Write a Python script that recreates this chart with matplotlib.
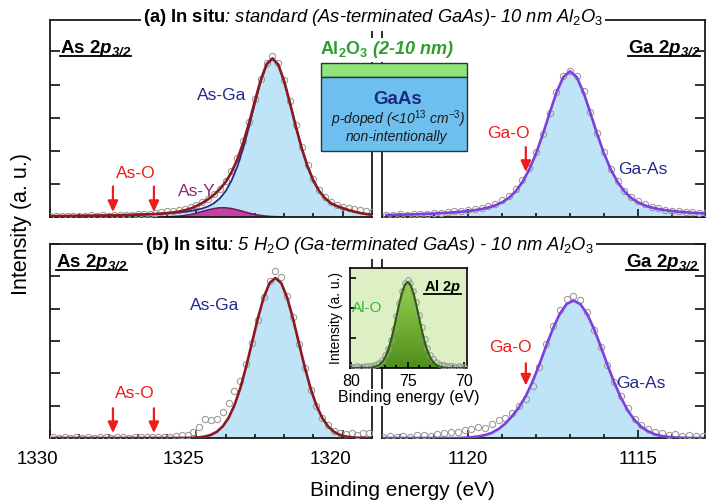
import numpy as np
import matplotlib
matplotlib.use("Agg")
import matplotlib.pyplot as plt
from matplotlib.patches import Rectangle
from matplotlib.lines import Line2D
from matplotlib.ticker import MultipleLocator
from matplotlib.colors import LinearSegmentedColormap

plt.rcParams['font.family'] = ['Liberation Sans', 'DejaVu Sans']
plt.rcParams['mathtext.fontset'] = 'custom'
plt.rcParams['mathtext.rm'] = 'Liberation Sans'
plt.rcParams['mathtext.it'] = 'Liberation Sans:italic'
plt.rcParams['mathtext.bf'] = 'Liberation Sans:bold'
plt.rcParams['mathtext.sf'] = 'Liberation Sans'
try:
    plt.rcParams['mathtext.bfit'] = 'Liberation Sans:italic:bold'
    BFIT = r'\mathbfit'
except KeyError:
    BFIT = r'\mathbf'

# ---------------- data ----------------
# (a) As 2p3/2, standard
as_a_E = np.round(np.arange(1330.0, 1318.99, -0.2), 1)
as_a_fit = [0.026, 0.028, 0.029, 0.031, 0.033, 0.035, 0.037, 0.040, 0.042, 0.045,
            0.048, 0.052, 0.055, 0.060, 0.065, 0.070, 0.077, 0.084, 0.092,
            0.103, 0.118, 0.137, 0.164, 0.203, 0.254, 0.330, 0.421, 0.534, 0.670,
            0.839, 1.056, 1.349, 1.739, 2.240, 2.841, 3.507, 4.141, 4.618, 4.792,
            4.600, 4.098,
            3.432, 2.725, 2.075, 1.525, 1.095, 0.779, 0.562, 0.416, 0.330, 0.270,
            0.210, 0.160, 0.120, 0.090, 0.070]
as_a_asga = [0.026, 0.028, 0.029, 0.031, 0.033, 0.035, 0.037, 0.040, 0.042, 0.045,
             0.048, 0.052, 0.055, 0.060, 0.065, 0.070, 0.077, 0.084, 0.092,
             0.101, 0.112, 0.125, 0.140, 0.158, 0.179, 0.214, 0.256, 0.320, 0.416,
             0.562, 0.779, 1.095, 1.525, 2.075, 2.725, 3.432, 4.096, 4.594, 4.780,
             4.594, 4.096,
             3.432, 2.725, 2.075, 1.525, 1.095, 0.779, 0.562, 0.416, 0.330, 0.270,
             0.210, 0.160, 0.120, 0.090, 0.070]
as_a_data = [0.03, 0.02, 0.04, 0.03, 0.02, 0.04, 0.03, 0.05, 0.04, 0.06,
             0.04, 0.06, 0.05, 0.07, 0.06, 0.08, 0.09, 0.10, 0.12,
             0.14, 0.17, 0.18, 0.22, 0.24, 0.30, 0.36, 0.45, 0.55, 0.70,
             0.86, 1.10, 1.40, 1.78, 2.30, 2.88, 3.55, 4.18, 4.66, 4.85,
             4.66, 4.15,
             3.50, 2.78, 2.12, 1.58, 1.14, 0.82, 0.60, 0.45, 0.36, 0.30,
             0.27, 0.24, 0.22, 0.18, 0.15]
as_y_E = np.round(np.arange(1326.2, 1321.99, -0.2), 1)
as_y = [0.002, 0.006, 0.012, 0.024, 0.045, 0.075, 0.116, 0.165, 0.214, 0.254, 0.277,
        0.277, 0.254, 0.214, 0.165, 0.116, 0.075, 0.045, 0.024, 0.012, 0.006, 0.002]

# (a) Ga 2p3/2, standard
ga_a_E = np.round(np.arange(1122.4, 1112.99, -0.2), 1)
ga_a_fit = [0.060, 0.064, 0.069, 0.075, 0.081, 0.088, 0.097, 0.106, 0.117, 0.129,
            0.144, 0.161, 0.182, 0.207, 0.242, 0.287, 0.351, 0.442, 0.576, 0.774,
            1.056, 1.434, 1.918, 2.499, 3.139, 3.755, 4.222, 4.400,
            4.222, 3.755, 3.139, 2.499, 1.918, 1.434, 1.056, 0.774, 0.576, 0.442,
            0.351, 0.287, 0.242, 0.207, 0.182, 0.161, 0.144, 0.129, 0.117, 0.106]
ga_a_data = [0.07, 0.05, 0.08, 0.06, 0.09, 0.10, 0.09, 0.12, 0.13, 0.15,
             0.17, 0.19, 0.21, 0.24, 0.28, 0.33, 0.40, 0.50, 0.64, 0.84,
             1.12, 1.48, 1.95, 2.52, 3.15, 3.78, 4.25, 4.42,
             4.26, 3.80, 3.18, 2.55, 1.96, 1.46, 1.08, 0.80, 0.60, 0.47,
             0.38, 0.31, 0.26, 0.22, 0.19, 0.17, 0.15, 0.14, 0.12, 0.11]

# (b) As 2p3/2, 5 H2O
as_b_E = np.round(np.arange(1329.9, 1319.09, -0.2), 1)
as_b_fit = [0.0] * 23 + [0.003, 0.008, 0.021, 0.047, 0.098, 0.194, 0.358, 0.622, 1.010,
                         1.539, 2.203, 2.945, 3.698, 4.346, 4.792, 4.950, 4.792, 4.346,
                         3.698, 2.945, 2.203, 1.539, 1.010, 0.622, 0.358, 0.194, 0.098,
                         0.047, 0.021, 0.008, 0.003, 0.001]
as_b_data = [0.02, 0.01, 0.03, 0.01, 0.02, 0.00, 0.02, 0.01, 0.03, 0.02,
             0.01, 0.02, 0.03, 0.01, 0.02, 0.02, 0.03, 0.02, 0.04, 0.03,
             0.03, 0.06, 0.10,
             0.08, 0.20, 0.35, 0.58, 0.55, 0.60, 0.80, 1.07, 1.45, 1.75,
             2.30, 2.95, 3.65, 4.35, 4.85, 5.15, 4.98, 4.40, 3.75, 2.90,
             2.15, 1.50, 1.00, 0.62, 0.40, 0.22, 0.15, 0.12, 0.14, 0.10,
             0.16, 0.15]

# (b) Ga 2p3/2, 5 H2O
ga_b_E = np.round(np.arange(1122.5, 1113.09, -0.2), 1)
ga_b_fit = [0.0] * 12 + [0.012, 0.025, 0.05, 0.09, 0.16, 0.28, 0.45, 0.68, 0.95, 1.30,
                         1.75, 2.28, 2.85, 3.39, 3.842, 4.144, 4.25, 4.144, 3.842, 3.387,
                         2.843, 2.265, 1.717, 1.239, 0.850, 0.554, 0.343, 0.203, 0.113,
                         0.061, 0.031, 0.015, 0.007, 0.003, 0.001, 0.0]
ga_b_data = [0.03, 0.05, 0.02, 0.06, 0.04, 0.08, 0.10, 0.07, 0.12, 0.15, 0.20, 0.18,
             0.25, 0.28, 0.35, 0.32, 0.42, 0.55, 0.62, 0.78, 1.00, 1.20,
             1.60, 2.20, 2.90, 3.45, 3.95, 4.30, 4.38, 4.28, 3.90, 3.35,
             2.80, 2.25, 1.72, 1.30, 0.92, 0.60, 0.40, 0.28, 0.18, 0.15,
             0.10, 0.12, 0.07, 0.09, 0.05, 0.06]

# inset Al 2p
al_E = np.round(np.arange(80.0, 69.99, -0.25), 2)
al_fit = [0, 0, 0, 0, 0.001, 0.002, 0.005, 0.011, 0.026, 0.055, 0.109, 0.203, 0.354,
          0.578, 0.885, 1.270, 1.705, 2.144, 2.526, 2.787, 2.880, 2.787, 2.526, 2.144,
          1.705, 1.270, 0.885, 0.578, 0.354, 0.203, 0.109, 0.055, 0.026, 0.011, 0.005,
          0.002, 0.001, 0, 0, 0, 0]
al_data = [0.05, 0.03, 0.06, 0.04, 0.05, 0.07, 0.06, 0.08, 0.10, 0.12,
           0.18, 0.27, 0.42, 0.63, 0.93, 1.30, 1.74, 2.18, 2.57, 2.84,
           2.96, 2.85, 2.58, 2.20, 1.78, 1.36, 0.98, 0.68, 0.45, 0.30,
           0.21, 0.15, 0.11, 0.09, 0.07, 0.08, 0.06, 0.05, 0.06, 0.04, 0.05]

as_o_arrows = [1327.85, 1326.45]
ga_o_arrow = [1118.3]
as_ticks = [1330, 1325, 1320]
ga_ticks = [1120, 1115]
al_ticks = [80, 75, 70]

# ---------------- styling ----------------
W, H = 709, 504
fig = plt.figure(figsize=(W / 100, H / 100), dpi=100)


def rect(l, t, r, b):
    return [l / W, 1 - b / H, (r - l) / W, (b - t) / H]


def fx(x):
    return x / W


def fy(y):
    return 1 - y / H


RED = '#8b1a1f'
NAVY = '#222a8c'
VIOLET = '#7f3fdc'
FILL = '#bfe3f7'
CIRC = '#9c9c9c'
ARROW = '#ee1c1c'
LW = 1.3

axA = fig.add_axes(rect(50, 20, 372, 217))
axB = fig.add_axes(rect(382, 20, 705, 217))
axC = fig.add_axes(rect(50, 244, 372, 438))
axD = fig.add_axes(rect(382, 244, 705, 438))


def style(ax, xlim, ylim, side):
    ax.set_xlim(*xlim)
    ax.set_ylim(*ylim)
    ax.xaxis.set_major_locator(MultipleLocator(5))
    ax.xaxis.set_minor_locator(MultipleLocator(1))
    ax.yaxis.set_major_locator(MultipleLocator(1))
    ax.tick_params(axis='x', which='major', direction='in', length=6, width=LW,
                   labelbottom=False, color='#222222')
    ax.tick_params(axis='x', which='minor', direction='in', length=3, width=LW,
                   color='#222222')
    ax.tick_params(axis='y', which='major', direction='in', length=7, width=LW,
                   left=(side == 'left'), right=(side == 'right'),
                   labelleft=False, labelright=False, color='#222222')
    for s in ax.spines.values():
        s.set_linewidth(LW)
        s.set_color('#1a1a1a')


style(axA, (1330, 1319.0), (0, 5.95), 'left')
style(axB, (1122.53, 1113.03), (0, 5.95), 'right')
style(axC, (1330, 1319.0), (0, 6.0), 'left')
style(axD, (1122.53, 1113.03), (0, 6.0), 'right')

# top-left: As 2p, standard
axA.fill_between(as_a_E, 0, as_a_asga, color=FILL, lw=0, zorder=1)
axA.fill_between(as_y_E, 0, as_y, color='#c63fa4', lw=0, zorder=2)
axA.plot(as_y_E, as_y, color='#6e1a62', lw=1.2, zorder=2.5)
axA.plot(as_a_E, as_a_data, 'o', mfc='none', mec=CIRC, ms=4.5, mew=0.8, zorder=3)
axA.plot(as_a_E, as_a_asga, color=NAVY, lw=1.3, zorder=4)
axA.plot(as_a_E, as_a_fit, color=RED, lw=1.9, zorder=5)

# top-right: Ga 2p, standard
axB.fill_between(ga_a_E, 0, ga_a_fit, color=FILL, lw=0, zorder=1)
axB.plot(ga_a_E, ga_a_data, 'o', mfc='none', mec=CIRC, ms=4.5, mew=0.8, zorder=3)
axB.plot(ga_a_E, ga_a_fit, color=VIOLET, lw=1.9, zorder=5)

# bottom-left: As 2p, 5 H2O
axC.fill_between(as_b_E, 0, as_b_fit, color=FILL, lw=0, zorder=1)
axC.plot(as_b_E, as_b_data, 'o', mfc='none', mec=CIRC, ms=4.5, mew=0.8, zorder=3)
axC.plot(as_b_E, as_b_fit, color=RED, lw=1.9, zorder=5)

# bottom-right: Ga 2p, 5 H2O
axD.fill_between(ga_b_E, 0, ga_b_fit, color=FILL, lw=0, zorder=1)
axD.plot(ga_b_E, ga_b_data, 'o', mfc='none', mec=CIRC, ms=4.5, mew=0.8, zorder=3)
axD.plot(ga_b_E, ga_b_fit, color=VIOLET, lw=1.9, zorder=5)

# arrows
aprops = dict(arrowstyle='-|>,head_length=0.65,head_width=0.3', color=ARROW, lw=1.6,
              shrinkA=0, shrinkB=0)
for e in as_o_arrows:
    axA.annotate('', xy=(e, 0.15), xytext=(e, 0.92), arrowprops=aprops, zorder=6)
    axC.annotate('', xy=(e, 0.15), xytext=(e, 0.92), arrowprops=aprops, zorder=6)
for e in ga_o_arrow:
    axB.annotate('', xy=(e, 1.36), xytext=(e, 2.11), arrowprops=aprops, zorder=6)
    axD.annotate('', xy=(e, 1.62), xytext=(e, 2.31), arrowprops=aprops, zorder=6)

# x tick labels (bottom row)
for v in as_ticks:
    axC.annotate(str(v), xy=(v, 0), xycoords=('data', 'axes fraction'),
                 xytext=(-9, -9), textcoords='offset points', ha='center', va='top',
                 fontsize=13.5, annotation_clip=False)
for v in ga_ticks:
    axD.annotate(str(v), xy=(v, 0), xycoords=('data', 'axes fraction'),
                 xytext=(0, -9), textcoords='offset points', ha='center', va='top',
                 fontsize=13.5, annotation_clip=False)

fig.text(fx(402), fy(490), 'Binding energy (eV)', fontsize=15, ha='center', va='center')
fig.text(fx(22), fy(224), 'Intensity (a. u.)', fontsize=15.5, rotation=90,
         ha='center', va='center')

# titles
WB = dict(facecolor='white', edgecolor='none', pad=1.5)
fig.text(fx(143), fy(18),
         r"$\mathbf{(a)\ In\ situ}$: standard (As-terminated GaAs)- 10 nm $\mathit{Al_2O_3}$",
         fontsize=13.2, fontstyle='italic', ha='left', va='center', bbox=WB, zorder=20)
fig.text(fx(145), fy(246),
         r"$\mathbf{(b)\ In\ situ}$: 5 $\mathit{H_2O}$ (Ga-terminated GaAs) - 10 nm $\mathit{Al_2O_3}$",
         fontsize=13.2, fontstyle='italic', ha='left', va='center', bbox=WB, zorder=20)

# underlined core-level labels
ulabels = []


def corelabel(x, ybase, s, ha='left', fs=13.5):
    t = fig.text(fx(x), fy(ybase), s, fontsize=fs, ha=ha, va='baseline', zorder=20)
    ulabels.append((t, ybase))
    return t


AS2P = r"$\mathbf{As\ 2}" + BFIT + r"{p}_{" + BFIT + r"{3/2}}$"
GA2P = r"$\mathbf{Ga\ 2}" + BFIT + r"{p}_{" + BFIT + r"{3/2}}$"
corelabel(60, 53, AS2P)
corelabel(700, 53, GA2P, ha='right')
corelabel(56, 267, AS2P)
corelabel(698, 267, GA2P, ha='right')


# component labels
def lab(x, y, s, c, fs=12.5):
    fig.text(fx(x), fy(y), s, color=c, fontsize=fs, ha='center', va='center', zorder=20)


lab(222, 95, 'As-Ga', NAVY)
lab(136, 174, 'As-O', ARROW)
lab(197, 192, 'As-Y', '#8c2a78')
lab(508, 133, 'Ga-O', ARROW)
lab(643, 170, 'Ga-As', NAVY)
lab(215, 305, 'As-Ga', NAVY)
lab(135, 393, 'As-O', ARROW)
lab(510, 348, 'Ga-O', ARROW)
lab(641, 383, 'Ga-As', NAVY)

# schematic of the stack
fig.add_artist(Rectangle((fx(321), fy(77)), 146 / W, 14 / H, transform=fig.transFigure,
                         facecolor='#8fe47c', edgecolor='#333333', lw=1.0, zorder=15))
fig.add_artist(Rectangle((fx(321), fy(151)), 146 / W, 74 / H, transform=fig.transFigure,
                         facecolor='#6cbfee', edgecolor='#333333', lw=1.0, zorder=15))
fig.text(fx(387), fy(50), r"$\mathbf{Al_2O_3}$ (2-10 nm)", color='#2e9e2e', fontsize=13,
         fontweight='bold', fontstyle='italic', ha='center', va='center',
         bbox=dict(facecolor='white', edgecolor='none', pad=1.0), zorder=16)
fig.text(fx(398), fy(100), 'GaAs', color='#1c2a80', fontsize=13.5, fontweight='bold',
         ha='center', va='center', zorder=16)
fig.text(fx(398), fy(119), r"p-doped (<10$^{\mathit{13}}$ cm$^{\mathit{-3}}$)",
         color='#1a1a1a', fontsize=10, fontstyle='italic', ha='center', va='center',
         zorder=16)
fig.text(fx(397), fy(137), 'non-intentionally', color='#1a1a1a', fontsize=10,
         fontstyle='italic', ha='center', va='center', zorder=16)

# inset Al 2p
axI = fig.add_axes(rect(350, 268, 467, 368), zorder=10)
axI.set_facecolor('#dcf0c3')
poly = axI.fill_between(al_E, 0, al_fit, facecolor='none', edgecolor='none')
grad = np.linspace(0, 1, 256).reshape(-1, 1)
cm = LinearSegmentedColormap.from_list('g', ['#4f8e1e', '#9ad44e'])
im = axI.imshow(grad, extent=[80.1, 69.75, 0, 3.0], origin='lower', cmap=cm,
                aspect='auto', zorder=1)
im.set_clip_path(poly.get_paths()[0], axI.transData)
axI.plot(al_E, al_data, 'o', mfc='none', mec=CIRC, ms=4, mew=0.8, zorder=3)
axI.plot(al_E, al_fit, color='#2c5e0e', lw=1.5, zorder=4)
axI.set_xlim(80.1, 69.75)
axI.set_ylim(0, 3.35)
axI.xaxis.set_major_locator(MultipleLocator(5))
axI.xaxis.set_minor_locator(MultipleLocator(1))
axI.yaxis.set_major_locator(MultipleLocator(1))
axI.set_xticks(al_ticks)
axI.set_xticklabels([str(v) for v in al_ticks])
axI.tick_params(axis='x', which='major', direction='in', length=4, width=1.2,
                labelsize=11.5, pad=4)
axI.tick_params(axis='x', which='minor', direction='in', length=2.5, width=1.2)
axI.tick_params(axis='y', which='major', direction='in', length=4, width=1.2,
                labelleft=False)
for s in axI.spines.values():
    s.set_linewidth(1.2)
axI.set_xlabel('Binding energy (eV)', fontsize=11.5, labelpad=1)
axI.xaxis.label.set_bbox(dict(facecolor='white', edgecolor='none', pad=0.5))
axI.set_ylabel('Intensity (a. u.)', fontsize=10, labelpad=5)
axI.text(0.15, 0.6, 'Al-O', transform=axI.transAxes, color='#3cb43c', fontsize=11,
         ha='center', va='center', zorder=5)
tAl = fig.text(fx(461), fy(291), r"$\mathbf{Al\ 2}" + BFIT + r"{p}$", fontsize=10.5,
               ha='right', va='baseline', zorder=21)
ulabels.append((tAl, 291))

# underlines measured from the rendered text
fig.canvas.draw()
r = fig.canvas.get_renderer()
for t, yb in ulabels:
    bb = t.get_window_extent(r)
    yy = fy(yb + 3)
    fig.add_artist(Line2D([bb.x0 / W, bb.x1 / W], [yy, yy], transform=fig.transFigure,
                          color='black', lw=1.3, zorder=21))

fig.savefig('out.png', dpi=100)
